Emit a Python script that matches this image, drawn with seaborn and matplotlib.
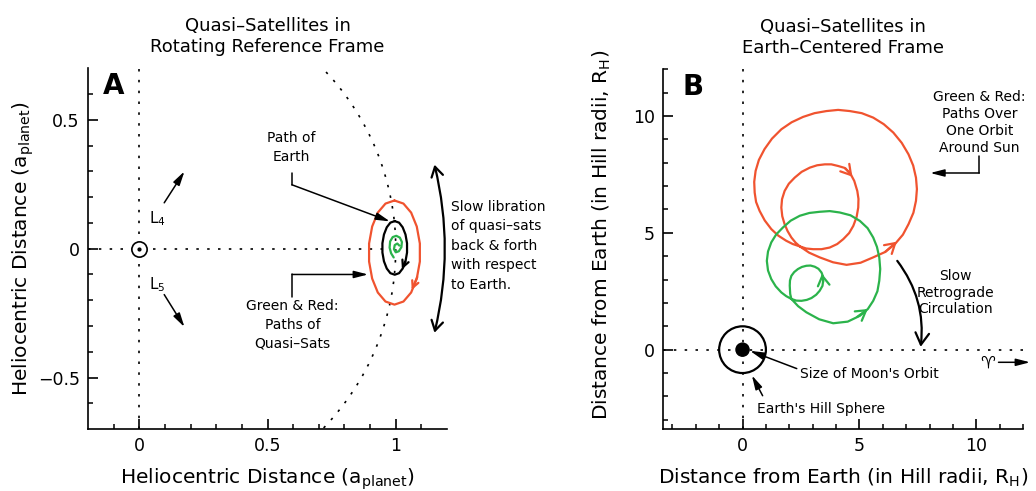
import matplotlib
matplotlib.use("Agg")
import matplotlib.pyplot as plt
from matplotlib.patches import Circle
import seaborn as sns

RED = "#f0532f"
GREEN = "#2bb34b"

# ---- Panel A: rotating reference frame (units of a_planet) ----
earth_path_x = [0.996, 1.013, 1.027, 1.038, 1.044, 1.044, 1.038, 1.027, 1.013, 0.996,
                0.979, 0.965, 0.954, 0.948, 0.948, 0.954, 0.965, 0.979, 0.996]
earth_path_y = [0.107, 0.101, 0.083, 0.055, 0.021, -0.015, -0.049, -0.077, -0.095, -0.101,
                -0.095, -0.077, -0.049, -0.015, 0.021, 0.055, 0.083, 0.101, 0.107]

red_a_x = [0.995, 1.030, 1.060, 1.082, 1.094, 1.094, 1.082, 1.060, 1.030, 0.995,
           0.960, 0.930, 0.908, 0.896, 0.896, 0.908, 0.930, 0.960, 0.995]
red_a_y = [0.187, 0.175, 0.140, 0.086, 0.020, -0.050, -0.116, -0.170, -0.205, -0.217,
           -0.205, -0.170, -0.116, -0.050, 0.020, 0.086, 0.140, 0.175, 0.187]

green_a_x = [0.992, 0.982, 0.976, 0.978, 0.988, 1.002, 1.016, 1.024, 1.022, 1.012, 1.000,
             0.993, 0.996, 1.006, 1.014]
green_a_y = [-0.034, -0.018, 0.004, 0.028, 0.045, 0.050, 0.043, 0.026, 0.006, -0.010,
             -0.014, -0.002, 0.014, 0.020, 0.012]

orbit_radius = 1.0
a_xticks = [0, 0.5, 1]
a_xticklabels = ["0", "0.5", "1"]
a_yticks = [-0.5, 0, 0.5]
a_yticklabels = ["\u22120.5", "0", "0.5"]

# ---- Panel B: Earth-centered frame (units of Hill radii) ----
red_b_x = [2.45, 2.85, 3.30, 3.87, 4.45, 5.05, 5.59, 6.10, 6.52, 6.86, 7.10, 7.31, 7.42, 7.46,
           7.42, 7.30, 7.10, 6.81, 6.45, 6.04, 5.59, 5.10, 4.59, 4.09, 3.59, 3.08, 2.59, 2.10,
           1.66, 1.26, 0.94, 0.70, 0.56, 0.50, 0.52, 0.58, 0.73, 0.95, 1.23, 1.53, 1.87, 2.15,
           2.45, 2.72, 3.02, 3.38, 3.73, 4.05, 4.31, 4.56, 4.74, 4.88, 4.95, 4.96, 4.91, 4.78,
           4.59, 4.36, 4.09, 3.80, 3.52, 3.19, 2.88, 2.53, 2.23, 1.98, 1.80, 1.69, 1.66, 1.70,
           1.80, 1.93, 2.09, 2.27, 2.45]
red_b_y = [4.42, 4.15, 3.95, 3.74, 3.63, 3.72, 3.95, 4.18, 4.52, 4.92, 5.37, 5.86, 6.37, 6.87,
           7.36, 7.88, 8.36, 8.85, 9.29, 9.65, 9.93, 10.12, 10.21, 10.26, 10.21, 10.12, 9.96, 9.73,
           9.43, 9.03, 8.58, 8.12, 7.65, 7.18, 6.72, 6.32, 5.94, 5.53, 5.16, 4.88, 4.66, 4.52,
           4.42, 4.33, 4.30, 4.30, 4.37, 4.52, 4.73, 4.99, 5.30, 5.68, 6.08, 6.45, 6.79, 7.22,
           7.58, 7.78, 7.86, 7.93, 7.93, 7.89, 7.79, 7.61, 7.36, 7.10, 6.79, 6.44, 6.08, 5.71,
           5.37, 5.07, 4.80, 4.58, 4.42]

green_b_x = [2.09, 2.38, 2.73, 3.28, 3.88, 4.50, 5.02, 5.36, 5.59, 5.77, 5.85, 5.89, 5.85, 5.75,
             5.59, 5.35, 5.02, 4.62, 4.16, 3.73, 3.30, 2.86, 2.45, 2.06, 1.73, 1.44, 1.23, 1.09,
             1.04, 1.09, 1.23, 1.42, 1.66, 1.87, 2.09,
             2.30, 2.52, 2.75, 2.95, 3.15, 3.30, 3.42, 3.45, 3.44, 3.38, 3.25, 3.09, 2.91, 2.73,
             2.54, 2.37, 2.21, 2.09, 2.03, 2.02, 2.03, 2.04, 2.09]
green_b_y = [2.17, 1.86, 1.60, 1.30, 1.13, 1.20, 1.45, 1.74, 2.09, 2.50, 2.95, 3.45, 3.95, 4.40,
             4.80, 5.20, 5.51, 5.75, 5.87, 5.93, 5.90, 5.85, 5.73, 5.52, 5.23, 4.93, 4.59, 4.20,
             3.80, 3.39, 3.02, 2.71, 2.45, 2.29, 2.17,
             2.10, 2.09, 2.13, 2.21, 2.35, 2.52, 2.73, 2.95, 3.14, 3.30, 3.46, 3.55, 3.60, 3.59,
             3.54, 3.45, 3.32, 3.16, 2.96, 2.74, 2.55, 2.38, 2.17]

hill_radius = 1.0
moon_orbit_radius = 0.28
b_ticks = [0, 5, 10]
b_ticklabels = ["0", "5", "10"]

sns.set_theme(style="ticks")
plt.rcParams["font.family"] = ["DejaVu Sans"]
plt.rcParams["mathtext.default"] = "regular"
plt.rcParams["text.color"] = "black"
plt.rcParams["axes.labelcolor"] = "black"
plt.rcParams["xtick.color"] = "black"
plt.rcParams["ytick.color"] = "black"

fig = plt.figure(figsize=(10.36, 4.91), dpi=100)
axA = fig.add_axes([0.085, 0.126, 0.3465, 0.735])
axB = fig.add_axes([0.640, 0.126, 0.3475, 0.733])

dot = (0, (1.5, 5))
FS = 10
LW = 1.6

for ax in (axA, axB):
    ax.spines[["top", "right"]].set_visible(False)
    for s in ("left", "bottom"):
        ax.spines[s].set_linewidth(1.2)
        ax.spines[s].set_color("black")
    ax.tick_params(which="major", direction="in", length=7, width=1.2, labelsize=12.5,
                   colors="black", pad=6)
    ax.tick_params(which="minor", direction="in", length=3.6, width=1.1)
    ax.set_facecolor("white")

# ================= Panel A =================
axA.set_xlim(-0.2, 1.2)
axA.set_ylim(-0.7, 0.7)
axA.set_xticks(a_xticks, a_xticklabels)
axA.set_yticks(a_yticks, a_yticklabels)
axA.set_xticks([v / 10 for v in range(-1, 12)], minor=True)
axA.set_yticks([v / 10 for v in range(-6, 7)], minor=True)

axA.axvline(0, color="black", lw=1.2, ls=dot)
axA.plot([-0.2, 0.95], [0, 0], color="black", lw=1.2, ls=dot)
axA.add_patch(Circle((0, 0), orbit_radius, fill=False, color="black", lw=1.2, ls=dot))

sns.lineplot(x=red_a_x, y=red_a_y, sort=False, estimator=None, color=RED, lw=LW, ax=axA)
sns.lineplot(x=earth_path_x, y=earth_path_y, sort=False, estimator=None, color="black", lw=LW, ax=axA)
sns.lineplot(x=green_a_x, y=green_a_y, sort=False, estimator=None, color=GREEN, lw=LW, ax=axA)

axA.annotate("", xy=(1.020, -0.090), xytext=(1.041, -0.040),
             arrowprops=dict(arrowstyle="->", color="black", lw=LW, mutation_scale=12))
axA.annotate("", xy=(1.058, -0.170), xytext=(1.088, -0.100),
             arrowprops=dict(arrowstyle="->", color=RED, lw=LW, mutation_scale=12))

# Sun
axA.plot([0], [0], marker="o", ms=11, mfc="white", mec="black", mew=1.2)
axA.plot([0], [0], marker="o", ms=2, color="black")

thin = dict(arrowstyle="-|>,head_length=0.7,head_width=0.18", color="black", lw=1.1,
            mutation_scale=12, shrinkA=0, shrinkB=0)

# L4 / L5
axA.text(0.039, 0.097, "L$_4$", fontsize=11, va="baseline")
axA.annotate("", xy=(0.176, 0.300), xytext=(0.097, 0.178), arrowprops=thin)
axA.text(0.039, -0.159, "L$_5$", fontsize=11, va="baseline")
axA.annotate("", xy=(0.176, -0.304), xytext=(0.097, -0.178), arrowprops=thin)

# Path of Earth
axA.text(0.593, 0.455, "Path of\nEarth", fontsize=FS, ha="center", va="top", linespacing=1.45)
axA.plot([0.595, 0.595], [0.295, 0.248], color="black", lw=1.1)
axA.annotate("", xy=(0.977, 0.106), xytext=(0.595, 0.248), arrowprops=thin)

# Green & Red: paths of quasi-sats
axA.text(0.597, -0.195, "Green & Red:\nPaths of\nQuasi\u2013Sats", fontsize=FS, ha="center",
         va="top", linespacing=1.45)
axA.plot([0.596, 0.596], [-0.186, -0.100], color="black", lw=1.1)
axA.annotate("", xy=(0.892, -0.100), xytext=(0.596, -0.100), arrowprops=thin)

# Slow libration
axA.annotate("", xy=(1.151, -0.326), xytext=(1.151, 0.326),
             arrowprops=dict(arrowstyle="<->,head_length=0.5,head_width=0.3", color="black",
                             lw=1.6, mutation_scale=14, shrinkA=0, shrinkB=0,
                             connectionstyle="arc3,rad=-0.12"), annotation_clip=False)
axA.text(1.217, 0.19, "Slow libration\nof quasi\u2013sats\nback & forth\nwith respect\nto Earth.",
         fontsize=FS, ha="left", va="top", linespacing=1.5)

axA.set_xlabel("Heliocentric Distance (a$_{planet}$)", fontsize=14.5, labelpad=8)
axA.set_ylabel("Heliocentric Distance (a$_{planet}$)", fontsize=14.5)
axA.yaxis.set_label_coords(-0.145, 0.5)
axA.set_title("Quasi\u2013Satellites in\nRotating Reference Frame", fontsize=13, pad=12)
axA.text(0.04, 0.99, "A", transform=axA.transAxes, fontsize=20, fontweight="bold", va="top")

# ================= Panel B =================
axB.set_xlim(-3.4, 12)
axB.set_ylim(-3.4, 12)
axB.set_xticks(b_ticks, b_ticklabels)
axB.set_yticks(b_ticks, b_ticklabels)
axB.set_xticks(range(-3, 13), minor=True)
axB.set_yticks(range(-3, 13), minor=True)

axB.axvline(0, color="black", lw=1.2, ls=dot)
axB.axhline(0, color="black", lw=1.2, ls=dot)

sns.lineplot(x=red_b_x, y=red_b_y, sort=False, estimator=None, color=RED, lw=LW, ax=axB)
sns.lineplot(x=green_b_x, y=green_b_y, sort=False, estimator=None, color=GREEN, lw=LW, ax=axB)

head = dict(arrowstyle="->,head_length=0.5,head_width=0.3", lw=LW, mutation_scale=14,
            shrinkA=0, shrinkB=0)
axB.annotate("", xy=(6.60, 4.62), xytext=(6.10, 4.18), arrowprops=dict(head, color=RED))
axB.annotate("", xy=(4.70, 7.40), xytext=(4.40, 7.76), arrowprops=dict(head, color=RED))
axB.annotate("", xy=(5.36, 1.74), xytext=(4.90, 1.40), arrowprops=dict(head, color=GREEN))
axB.annotate("", xy=(3.40, 3.25), xytext=(3.45, 2.90), arrowprops=dict(head, color=GREEN))

axB.add_patch(Circle((0, 0), hill_radius, fill=False, color="black", lw=1.6))
axB.add_patch(Circle((0, 0), moon_orbit_radius, color="black"))

axB.text(2.45, -1.03, "Size of Moon's Orbit", fontsize=FS, ha="left", va="center")
axB.annotate("", xy=(0.32, -0.05), xytext=(2.32, -0.81), arrowprops=thin)
axB.text(0.60, -2.52, "Earth's Hill Sphere", fontsize=FS, ha="left", va="center")
axB.annotate("", xy=(0.40, -1.10), xytext=(0.86, -1.97), arrowprops=thin)

axB.text(10.13, 11.1, "Green & Red:\nPaths Over\nOne Orbit\nAround Sun", fontsize=FS,
         ha="center", va="top", linespacing=1.25)
axB.plot([10.13, 10.13], [8.29, 7.56], color="black", lw=1.1)
axB.annotate("", xy=(8.03, 7.56), xytext=(10.13, 7.56), arrowprops=thin)

axB.text(9.1, 3.46, "Slow\nRetrograde\nCirculation", fontsize=FS, ha="center", va="top",
         linespacing=1.25)
axB.annotate("", xy=(7.62, 0.12), xytext=(6.62, 3.80),
             arrowprops=dict(arrowstyle="->,head_length=0.6,head_width=0.35", color="black",
                             lw=1.6, mutation_scale=14, shrinkA=0, shrinkB=0,
                             connectionstyle="arc3,rad=-0.2"))

axB.text(10.49, -0.54, "\u2648", fontsize=12, ha="center", va="center")
axB.annotate("", xy=(12.3, -0.54), xytext=(10.95, -0.54), arrowprops=thin,
             annotation_clip=False)

axB.set_xlabel("Distance from Earth (in Hill radii, R$_H$)", fontsize=14.5, labelpad=8)
axB.set_ylabel("Distance from Earth (in Hill radii, R$_H$)", fontsize=14.5)
axB.yaxis.set_label_coords(-0.14, 0.54)
axB.set_title("Quasi\u2013Satellites in\nEarth\u2013Centered Frame", fontsize=13, pad=12)
axB.text(0.053, 0.99, "B", transform=axB.transAxes, fontsize=20, fontweight="bold", va="top")

fig.savefig("out.png", dpi=100, facecolor="white")
